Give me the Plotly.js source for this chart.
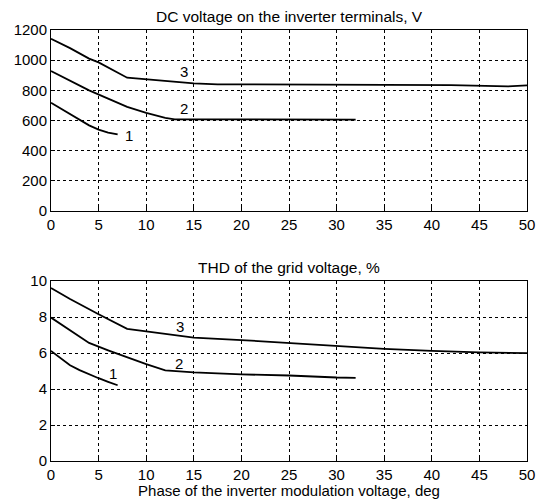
<!DOCTYPE html>
<html><head><meta charset="utf-8">
<script src="https://cdn.plot.ly/plotly-3.0.1.min.js"></script>
<style>body{margin:0;background:#fff}#c{width:544px;height:499px}</style>
</head><body><div id="c"></div>
<script>
// Top: DC voltage, V
const v1x = [0, 1, 2, 3, 4, 5, 6, 7];
const v1y = [718, 680, 645, 605, 568, 540, 520, 508];
const v2x = [0, 2, 4, 6, 8, 10, 12, 13, 20, 32];
const v2y = [928, 862, 800, 745, 690, 650, 617, 608, 606, 606];
const v3x = [0, 2, 4, 5, 8, 12, 15, 17.5, 25, 26, 42, 48, 50];
const v3y = [1142, 1080, 1010, 985, 884, 860, 846, 840, 840, 835, 835, 826, 833];
// Bottom: THD, %
const t1x = [0, 1, 2, 3, 4, 5, 6, 7];
const t1y = [6.12, 5.7, 5.32, 5.05, 4.81, 4.6, 4.4, 4.21];
const t2x = [0, 2, 4, 6, 8, 10, 12, 15, 20, 25, 30, 32];
const t2y = [7.97, 7.25, 6.56, 6.15, 5.75, 5.38, 5.03, 4.92, 4.81, 4.75, 4.64, 4.62];
const t3x = [0, 2, 5, 8, 10, 15, 20, 25, 30, 35, 40, 45, 50];
const t3y = [9.61, 9.0, 8.15, 7.34, 7.2, 6.86, 6.72, 6.56, 6.38, 6.23, 6.12, 6.03, 5.99];
const xTicks = [0, 5, 10, 15, 20, 25, 30, 35, 40, 45, 50];
const yTicksTop = [0, 200, 400, 600, 800, 1000, 1200];
const yTicksBot = [0, 2, 4, 6, 8, 10];
const curveLabels = ['1', '2', '3'];
const topLabelPos = [[8.2, 502], [14, 678], [14, 926]];
const botLabelPos = [[6.5, 4.86], [13.4, 5.42], [13.6, 7.49]];
const titleTop = 'DC voltage on the inverter terminals, V';
const titleBot = 'THD of the grid voltage, %';
const xTitle = 'Phase of the inverter modulation voltage, deg';

const line = {color: '#000', width: 1.8};
const traces = [
  {x: v1x, y: v1y, xaxis: 'x', yaxis: 'y'},
  {x: v2x, y: v2y, xaxis: 'x', yaxis: 'y'},
  {x: v3x, y: v3y, xaxis: 'x', yaxis: 'y'},
  {x: t1x, y: t1y, xaxis: 'x2', yaxis: 'y2'},
  {x: t2x, y: t2y, xaxis: 'x2', yaxis: 'y2'},
  {x: t3x, y: t3y, xaxis: 'x2', yaxis: 'y2'}
].map(t => Object.assign(t, {mode: 'lines', line: line, showlegend: false, hoverinfo: 'skip'}));

const fam = 'Liberation Sans, Arial, sans-serif';
const font = {family: fam, size: 15, color: '#000'};
const axBase = {
  showline: true, linecolor: '#000', linewidth: 1, mirror: true,
  showgrid: true, gridcolor: '#000', griddash: 'dot', gridwidth: 1,
  zeroline: false, ticks: 'inside', ticklen: 4, tickcolor: '#000',
  tickfont: font, fixedrange: true
};
const annotations = [];
curveLabels.forEach((l, i) => {
  annotations.push({x: topLabelPos[i][0], y: topLabelPos[i][1], xref: 'x', yref: 'y', text: l, showarrow: false, font: font});
  annotations.push({x: botLabelPos[i][0], y: botLabelPos[i][1], xref: 'x2', yref: 'y2', text: l, showarrow: false, font: font});
});
annotations.push({x: 0.5, y: 1, xref: 'paper', yref: 'paper', yshift: 3, yanchor: 'bottom', text: titleTop, showarrow: false, font: {family: fam, size: 15.5, color: '#000'}});
annotations.push({x: 0.5, y: 0.4176, xref: 'paper', yref: 'paper', yshift: 3, yanchor: 'bottom', text: titleBot, showarrow: false, font: {family: fam, size: 15.5, color: '#000'}});

const layout = {
  width: 544, height: 499,
  margin: {l: 51, r: 17, t: 30, b: 38},
  paper_bgcolor: '#fff', plot_bgcolor: '#fff',
  font: font,
  xaxis: Object.assign({}, axBase, {range: [0, 50], tickvals: xTicks, anchor: 'y', domain: [0, 1]}),
  yaxis: Object.assign({}, axBase, {range: [0, 1200], tickvals: yTicksTop, anchor: 'x', domain: [0.58, 1]}),
  xaxis2: Object.assign({}, axBase, {range: [0, 50], tickvals: xTicks, anchor: 'y2', domain: [0, 1],
    title: {text: xTitle, font: {family: fam, size: 15, color: '#000'}, standoff: 0}}),
  yaxis2: Object.assign({}, axBase, {range: [0, 10], tickvals: yTicksBot, anchor: 'x2', domain: [0, 0.4176]}),
  annotations: annotations
};
Plotly.newPlot('c', traces, layout, {displayModeBar: false, staticPlot: true});
</script></body></html>
